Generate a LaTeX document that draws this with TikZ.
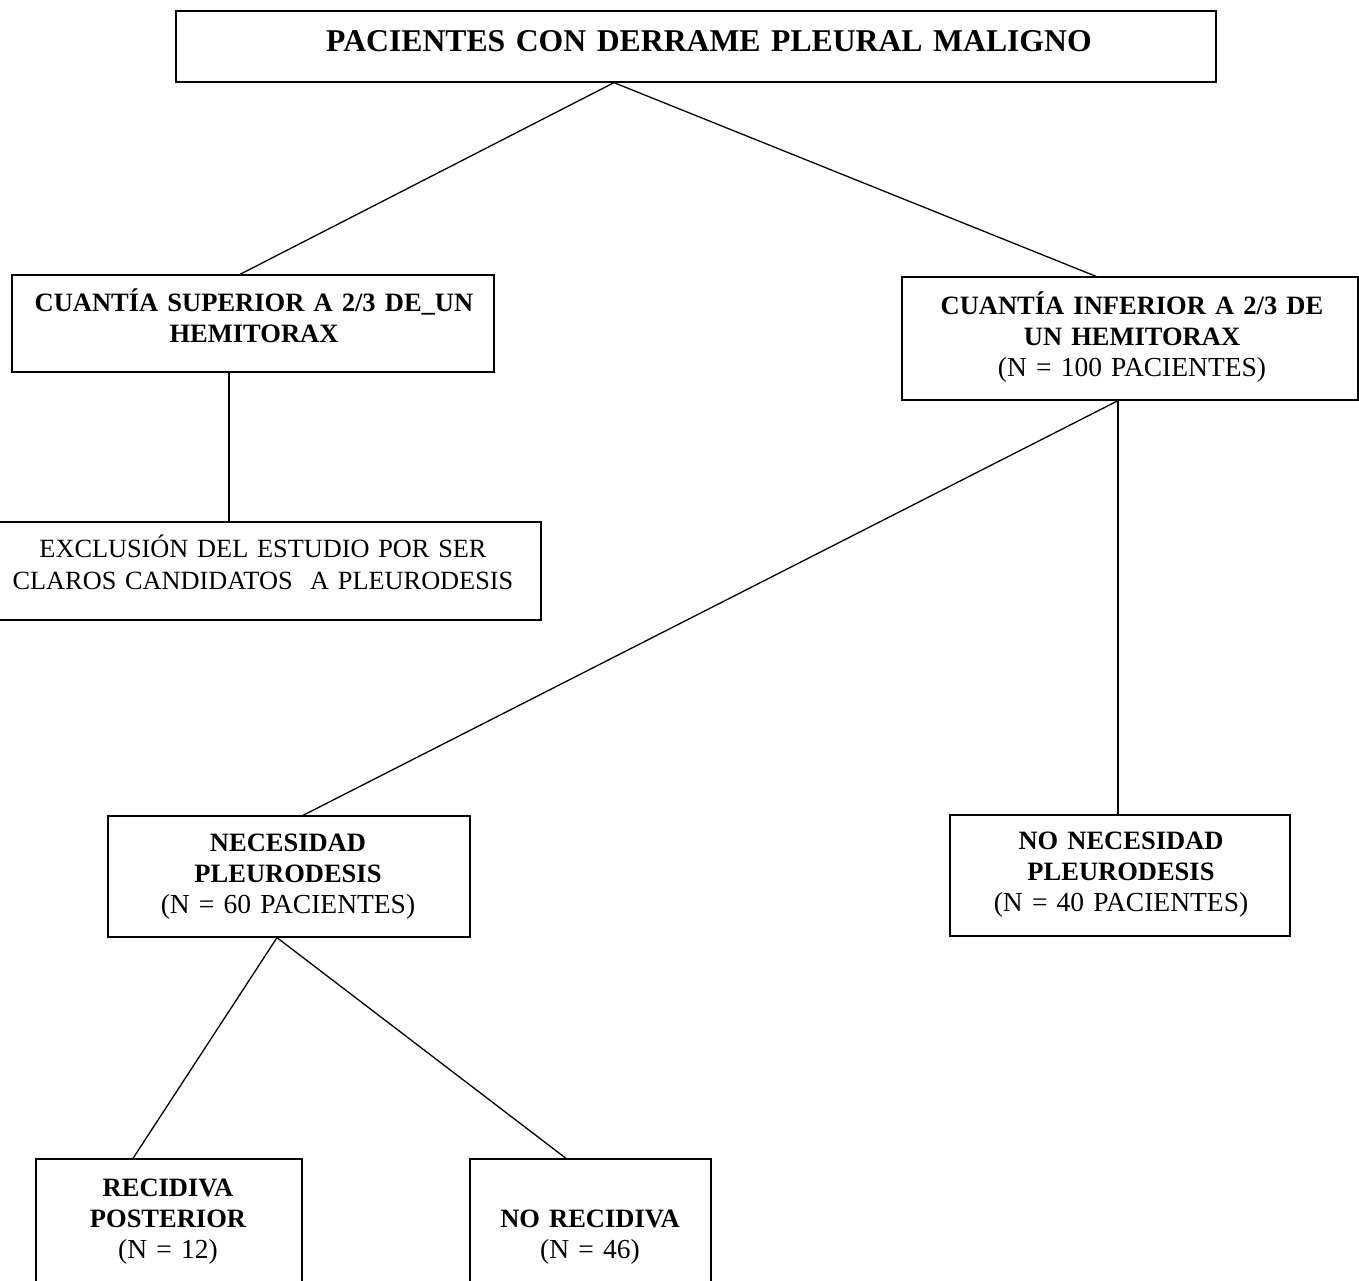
\documentclass[tikz,border=0pt]{standalone}
\usepackage{fontspec}
\setmainfont{Liberation Serif}
\begin{document}
\begin{tikzpicture}[x=1pt,y=-1pt,
  box/.style={draw=black,line width=1.3pt,inner sep=0pt,rectangle},
  txt/.style={inner sep=0pt,anchor=base,align=center,text width=700pt,
    font=\fontsize{27.5}{31}\selectfont},
  conn/.style={draw=black,line width=1.3pt}]
\useasboundingbox (0,0) rectangle (1359,1280);
\clip (0,0) rectangle (1359,1280);
\fill[white] (0,0) rectangle (1359,1280);
% boxes
\node[box,minimum width=1040pt,minimum height=71pt] (top) at (696,46.5) {};
\node[box,minimum width=482pt,minimum height=97pt] (L1) at (253,323.5) {};
\node[box,minimum width=456pt,minimum height=123pt] (R1) at (1130,338.5) {};
\node[box,minimum width=560pt,minimum height=98pt] (EX) at (261,571) {};
\node[box,minimum width=362pt,minimum height=121pt] (NE) at (289,876.5) {};
\node[box,minimum width=340pt,minimum height=121pt] (NN) at (1120,875.5) {};
\node[box,minimum width=266pt,minimum height=141pt] (RP) at (169,1229.5) {};
\node[box,minimum width=241pt,minimum height=141pt] (NR) at (590.5,1229.5) {};
% texts
\node[txt,text width=1100pt,font=\fontsize{31.7}{38}\selectfont\bfseries] (tTop) at (709,51) {PACIENTES CON DERRAME PLEURAL MALIGNO};
\node[txt] (tL1) at (254,311) {{\bfseries\fontsize{26.5}{31}\selectfont CUANTÍA SUPERIOR A 2/3 DE\_UN\\HEMITORAX}};
\node[txt] (tR1) at (1132,314) {{\bfseries\fontsize{26.5}{31}\selectfont CUANTÍA INFERIOR A 2/3 DE\\UN HEMITORAX}\\(N = 100 PACIENTES)};
\node[txt,font=\fontsize{26.3}{32.5}\selectfont] (tEX) at (263,557) {EXCLUSIÓN DEL ESTUDIO POR SER\\CLAROS CANDIDATOS\ \ A PLEURODESIS};
\node[txt] (tNE) at (288,851) {{\bfseries\fontsize{26.5}{31}\selectfont NECESIDAD\\PLEURODESIS}\\(N = 60 PACIENTES)};
\node[txt] (tNN) at (1121,849) {{\bfseries\fontsize{26.5}{31}\selectfont NO NECESIDAD\\PLEURODESIS}\\(N = 40 PACIENTES)};
\node[txt] (tRP) at (168,1196) {{\bfseries\fontsize{26.5}{31}\selectfont RECIDIVA\\POSTERIOR}\\(N = 12)};
\node[txt] (tNR) at (590,1227) {{\bfseries\fontsize{26.5}{31}\selectfont NO RECIDIVA}\\(N = 46)};
% connectors
\coordinate (topS) at ([xshift=-82pt]top.south);
\coordinate (R1S) at ([xshift=-12pt]R1.south);
\coordinate (L1S) at ([xshift=-24pt]L1.south);
\coordinate (NES) at ([xshift=-12pt]NE.south);
\draw[conn] (topS) -- ([xshift=-13pt]L1.north);
\draw[conn] (topS) -- ([xshift=-34pt]R1.north);
\draw[conn] (L1S) -- (L1S |- EX.north);
\draw[conn] (R1S) -- (R1S |- NN.north);
\draw[conn] (R1S) -- ([xshift=14pt]NE.north);
\draw[conn] (NES) -- ([xshift=-36pt]RP.north);
\draw[conn] (NES) -- ([xshift=-24.5pt]NR.north);
\end{tikzpicture}
\end{document}
